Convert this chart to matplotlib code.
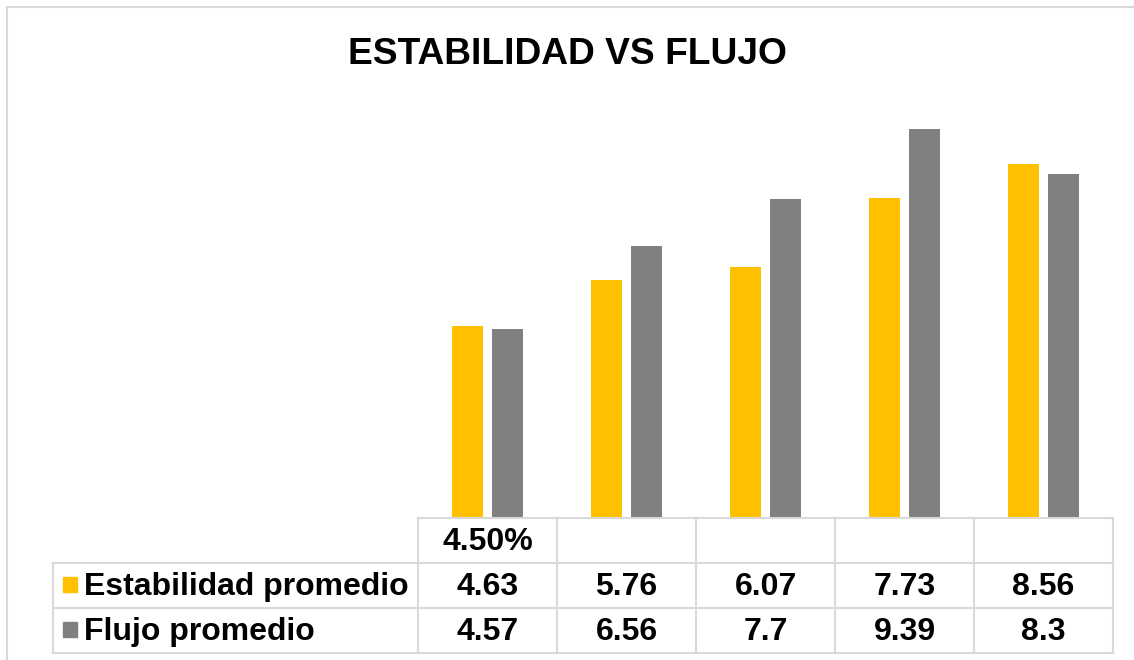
import matplotlib
matplotlib.use("Agg")
import matplotlib.pyplot as plt
from matplotlib.lines import Line2D
from matplotlib.patches import Rectangle

plt.rcParams['font.family'] = ['Liberation Sans', 'DejaVu Sans']

categorias = ["4.50%", "", "", "", ""]
series = ["Estabilidad promedio", "Flujo promedio"]
estabilidad = [4.63, 5.76, 6.07, 7.73, 8.56]
flujo = [4.57, 6.56, 7.7, 9.39, 8.3]
etiquetas_est = ["4.63", "5.76", "6.07", "7.73", "8.56"]
etiquetas_flu = ["4.57", "6.56", "7.7", "9.39", "8.3"]
colores = ["#FFC000", "#808080"]

W, H = 1134, 660
fig = plt.figure(figsize=(W / 100, H / 100), dpi=100)

def fx(px):
    return px / W

def fy(py):
    return 1 - py / H

# chart area border (top and left only visible)
borde = "#D9D9D9"
fig.add_artist(Line2D([fx(7), 1], [fy(7), fy(7)], color=borde, lw=1.5))
fig.add_artist(Line2D([fx(7), fx(7)], [fy(7), 0], color=borde, lw=1.5))

fig.text(0.5, fy(64), "ESTABILIDAD VS FLUJO", ha="center", va="baseline",
         fontsize=26.7, fontweight="bold")

# bar axes
x0, x1, ytop, ybot = 418, 1113, 104, 518
ax = fig.add_axes([fx(x0), fy(ybot), fx(x1) - fx(x0), fy(ytop) - fy(ybot)])
ax.set_xlim(-0.5, len(categorias) - 0.5)
ax.set_ylim(0, 10)
ax.axis("off")

pos = list(range(len(categorias)))
ancho = 0.223
off = 0.144
ax.bar([p - off for p in pos], estabilidad, width=ancho, color=colores[0])
ax.bar([p + off for p in pos], flujo, width=ancho, color=colores[1])

# data table
tl = 53
row_h = 45
tb = ybot + 3 * row_h
unit = (x1 - x0) / len(categorias)
tax = fig.add_axes([fx(tl), fy(tb), fx(x1) - fx(tl), fy(ybot) - fy(tb)])
tax.set_xlim(-0.5 - (x0 - tl) / unit, len(categorias) - 0.5)
tax.set_ylim(3, 0)
tax.axis("off")
lx = -0.5 - (x0 - tl) / unit

lc = "#D9D9D9"
lw = 1.5
# horizontal lines
tax.plot([-0.5, len(categorias) - 0.5], [0, 0], color=lc, lw=lw, clip_on=False)
for r in [1, 2, 3]:
    tax.plot([lx, len(categorias) - 0.5], [r, r], color=lc, lw=lw, clip_on=False)
# vertical lines
tax.plot([lx, lx], [1, 3], color=lc, lw=lw, clip_on=False)
for i in range(len(categorias) + 1):
    tax.plot([i - 0.5, i - 0.5], [0, 3], color=lc, lw=lw, clip_on=False)

fs = 23
base = 32 / row_h
for i, c in enumerate(categorias):
    tax.text(i, 0 + base, c, ha="center", va="baseline", fontsize=fs, fontweight="bold")
for r, (nombre, etiquetas) in enumerate(zip(series, [etiquetas_est, etiquetas_flu])):
    y = r + 1
    tax.add_patch(Rectangle((lx + 10 / unit, y + 14 / row_h), 14 / unit, 15 / row_h,
                            color=colores[r], clip_on=False))
    tax.text(lx + 31 / unit, y + base, nombre, ha="left", va="baseline",
             fontsize=fs, fontweight="bold")
    for i, t in enumerate(etiquetas):
        tax.text(i, y + base, t, ha="center", va="baseline", fontsize=fs, fontweight="bold")

fig.savefig("out.png", dpi=100)
